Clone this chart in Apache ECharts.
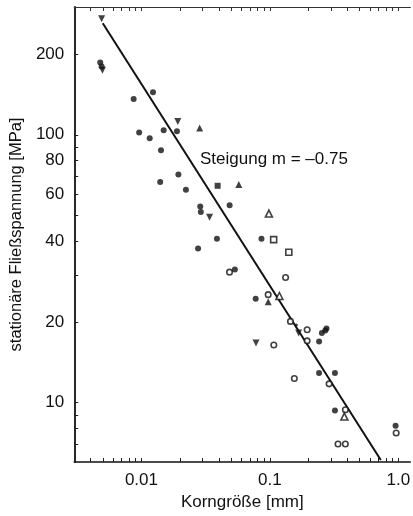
<!DOCTYPE html>
<html>
<head>
<meta charset="utf-8">
<script src="https://cdn.jsdelivr.net/npm/echarts@6/dist/echarts.min.js"></script>
<style>
  html, body { margin: 0; padding: 0; background: #fff; }
  #chart { width: 413px; height: 516px; }
</style>
</head>
<body>
<div id="chart"></div>
<script>
// Grain size d [mm] vs. steady-state flow stress [MPa], log-log.

// filled circles
const filledCircleX = [0.00478, 0.0049, 0.0087, 0.0123, 0.0096, 0.0116, 0.0149, 0.0189, 0.0142, 0.0194, 0.014, 0.0222, 0.0287, 0.029, 0.0276, 0.0486, 0.0387, 0.086, 0.0534, 0.0775, 0.254, 0.27, 0.276, 0.2416, 0.2416, 0.321, 0.321, 0.952];
const filledCircleY = [186, 180, 136, 144, 102, 97, 104, 103, 87.5, 71, 66.7, 62.4, 54, 51.5, 37.6, 54.6, 40.9, 40.9, 31.4, 24.4, 18.2, 18.6, 18.9, 16.9, 12.9, 12.9, 9.35, 8.2];

// filled triangles (apex up)
const filledTriUpX = [0.0284, 0.0573, 0.097];
const filledTriUpY = [106, 65.2, 23.8];

// filled triangles (apex down)
const filledTriDownX = [0.0049, 0.00497, 0.0192, 0.0339, 0.1674, 0.078];
const filledTriDownY = [271, 174, 112, 49.2, 18.2, 16.7];

// filled squares
const filledSquareX = [0.0392];
const filledSquareY = [64.5];

// open circles
const openCircleX = [0.0485, 0.1325, 0.097, 0.1446, 0.1073, 0.155, 0.195, 0.195, 0.289, 0.387, 0.339, 0.387, 0.962];
const openCircleY = [30.7, 29.3, 25.3, 20.1, 16.4, 12.3, 18.7, 17.0, 11.75, 9.4, 7.0, 7.0, 7.7];

// open triangles (apex up)
const openTriUpX = [0.0983, 0.1186, 0.380];
const openTriUpY = [50.8, 25.0, 8.87];

// open squares
const openSquareX = [0.107, 0.1404];
const openSquareY = [40.6, 36.4];

// small dots
const dotX = [0.1607];
const dotY = [19.5];

// fitted power law, slope -0.75
const fitX = [0.005, 0.73];
const fitY = [261, 6.1];

// axis ticks and labels
const xTickValues = [0.004, 0.005, 0.006, 0.007, 0.008, 0.009, 0.01, 0.02, 0.03, 0.04, 0.05, 0.06, 0.07, 0.08, 0.09, 0.1, 0.2, 0.3, 0.4, 0.5, 0.6, 0.7, 0.8, 0.9, 1.0];
const xLabelValues = [0.01, 0.1, 1.0];
const yTickValues = [7, 8, 9, 10, 20, 30, 40, 50, 60, 70, 80, 90, 100, 200];
const yLabelValues = [10, 20, 40, 60, 80, 100, 200];

const zip = (xs, ys) => xs.map((x, i) => [x, ys[i]]);

const TEXT = '#111';
const FONT = 'Liberation Sans, Arial, Helvetica, sans-serif';

function fmtX(v) {
  const n = Number(Number(v).toPrecision(3));
  return n === 1 ? '1.0' : String(n);
}
function fmtY(v) {
  return String(Math.round(v));
}

const chart = echarts.init(document.getElementById('chart'), null, { renderer: 'canvas' });

const scatterBase = { type: 'scatter', z: 3 };
const filledStyle = { color: '#111', borderColor: '#111', borderWidth: 0 };
const openStyle = { color: '#fff', borderColor: '#111', borderWidth: 1.6 };

chart.setOption({
  animation: false,
  backgroundColor: '#fff',
  grid: { left: 70, right: 0, top: 7, bottom: 54, containLabel: false },
  xAxis: [
    {
      type: 'log', logBase: 10, min: 0.003, max: 1.24, position: 'bottom',
      name: 'Korngröße [mm]', nameLocation: 'middle', nameGap: 31,
      nameTextStyle: { color: TEXT, fontSize: 17, fontFamily: FONT },
      axisLine: { show: true, lineStyle: { color: '#111', width: 1.5 } },
      axisTick: { show: true, inside: true, length: 4, customValues: xTickValues, lineStyle: { color: '#222', width: 1 } },
      axisLabel: { show: true, customValues: xLabelValues, formatter: fmtX, color: TEXT, fontSize: 17, fontFamily: FONT, margin: 10 },
      splitLine: { show: false }, minorTick: { show: false }
    },
    {
      type: 'log', logBase: 10, min: 0.003, max: 1.24, position: 'top',
      axisLine: { show: true, onZero: false, lineStyle: { color: '#333', width: 1.2 } },
      axisTick: { show: true, inside: true, length: 4, customValues: xTickValues, lineStyle: { color: '#333', width: 1 } },
      axisLabel: { show: false },
      splitLine: { show: false }
    }
  ],
  yAxis: {
    type: 'log', logBase: 10, min: 6, max: 300, position: 'left',
    name: 'stationäre Fließspannung [MPa]', nameLocation: 'middle', nameGap: 43, nameRotate: 90,
    nameTextStyle: { color: TEXT, fontSize: 16.5, fontFamily: FONT },
    axisLine: { show: true, lineStyle: { color: '#111', width: 1.8 } },
    axisTick: { show: true, inside: true, length: 4, customValues: yTickValues, lineStyle: { color: '#222', width: 1 } },
    axisLabel: { show: true, customValues: yLabelValues, formatter: fmtY, color: TEXT, fontSize: 17, fontFamily: FONT, margin: 10 },
    splitLine: { show: false }
  },
  graphic: [
    {
      type: 'text', left: 200, top: 151,
      style: { text: 'Steigung m = –0.75', fill: TEXT, fontSize: 17, fontFamily: FONT }
    }
  ],
  series: [
    {
      type: 'line', data: zip(fitX, fitY), symbol: 'none', z: 2,
      lineStyle: { color: '#111', width: 2 }
    },
    Object.assign({}, scatterBase, { data: zip(filledCircleX, filledCircleY), symbol: 'circle', symbolSize: 6, itemStyle: filledStyle }),
    Object.assign({}, scatterBase, { data: zip(filledTriUpX, filledTriUpY), symbol: 'triangle', symbolSize: 7, itemStyle: filledStyle }),
    Object.assign({}, scatterBase, { data: zip(filledTriDownX, filledTriDownY), symbol: 'triangle', symbolRotate: 180, symbolSize: 7, itemStyle: filledStyle }),
    Object.assign({}, scatterBase, { data: zip(filledSquareX, filledSquareY), symbol: 'rect', symbolSize: 6, itemStyle: filledStyle }),
    Object.assign({}, scatterBase, { data: zip(openCircleX, openCircleY), symbol: 'circle', symbolSize: 5.5, itemStyle: openStyle }),
    Object.assign({}, scatterBase, { data: zip(openTriUpX, openTriUpY), symbol: 'triangle', symbolSize: 7, itemStyle: openStyle }),
    Object.assign({}, scatterBase, { data: zip(openSquareX, openSquareY), symbol: 'rect', symbolSize: 6, itemStyle: openStyle }),
    Object.assign({}, scatterBase, { data: zip(dotX, dotY), symbol: 'circle', symbolSize: 3, itemStyle: filledStyle })
  ]
});
</script>
</body>
</html>
